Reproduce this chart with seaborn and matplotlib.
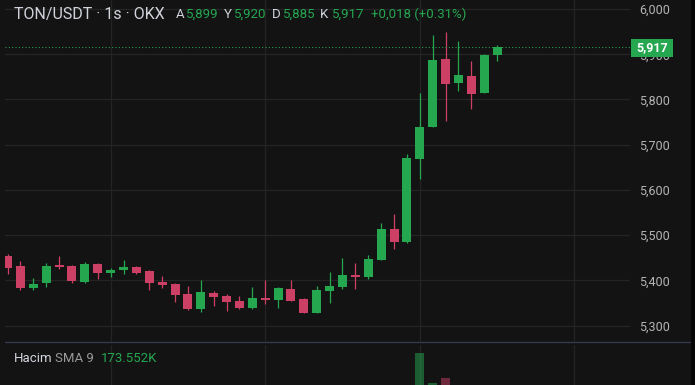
import numpy as np
import pandas as pd
import matplotlib
matplotlib.use("Agg")
import matplotlib.pyplot as plt
import seaborn as sns
from matplotlib.patches import Rectangle
from matplotlib.lines import Line2D

# ---------------- data ----------------
opens = [5454, 5432, 5384, 5393, 5433, 5432, 5397, 5436, 5417, 5422,
         5430, 5421, 5397, 5392, 5370, 5337, 5372, 5365, 5354, 5339,
         5361, 5357, 5381, 5359, 5328, 5377, 5386, 5412, 5407, 5445,
         5514, 5485, 5668, 5739, 5890, 5837, 5852, 5814, 5899]
highs = [5459, 5443, 5405, 5439, 5454, 5433, 5441, 5439, 5427, 5445,
         5432, 5422, 5410, 5393, 5387, 5401, 5376, 5370, 5365, 5385,
         5401, 5385, 5401, 5361, 5387, 5419, 5449, 5438, 5456, 5527,
         5547, 5680, 5815, 5943, 5949, 5930, 5885, 5901, 5920]
lows = [5415, 5379, 5379, 5386, 5426, 5393, 5393, 5402, 5408, 5413,
        5413, 5379, 5382, 5353, 5335, 5330, 5344, 5333, 5337, 5337,
        5348, 5339, 5355, 5328, 5328, 5350, 5381, 5381, 5403, 5445,
        5469, 5483, 5624, 5739, 5753, 5819, 5779, 5814, 5885]
closes = [5428, 5384, 5392, 5432, 5430, 5399, 5436, 5417, 5423, 5430,
          5417, 5395, 5390, 5368, 5337, 5374, 5364, 5353, 5339, 5361,
          5357, 5383, 5355, 5328, 5379, 5387, 5412, 5407, 5447, 5514,
          5485, 5671, 5739, 5888, 5834, 5854, 5812, 5899, 5917]
volumes_k = [60, 85, 40, 70, 30, 55, 65, 45, 25, 35,
             30, 60, 35, 70, 90, 95, 40, 55, 45, 60,
             50, 65, 70, 85, 110, 70, 90, 50, 120, 180,
             150, 260, 607, 338, 381, 70, 110, 95, 60]
price_ticks = [5300, 5400, 5500, 5600, 5700, 5800, 5900, 6000]
price_tick_labels = ["5,300", "5,400", "5,500", "5,600", "5,700", "5,800", "5,900", "6,000"]
time_grid_idx = [8, 20, 32, 44]
last_price = 5917
last_price_label = "5,917"
title = "TON/USDT · 1s · OKX"
ohlc_keys = ["A", "Y", "D", "K"]
ohlc_vals = ["5,899", "5,920", "5,885", "5,917"]
change_text = "+0,018 (+0.31%)"
vol_name = "Hacim"
vol_sma = "SMA 9"
vol_sma_val = "173.552K"
vol_axis_label = "400K"

# ---------------- style ----------------
BG = "#131313"
GRID = "#242424"
UP = "#25a750"
DOWN = "#cc4066"
TXT = "#d1d4dc"
TICK = "#b4b4b4"
GRAY = "#9a9a9a"

sns.set_theme(style="dark", rc={"axes.facecolor": BG, "figure.facecolor": BG,
                                "grid.color": GRID, "axes.grid": True})
plt.rcParams["font.family"] = ["Roboto", "DejaVu Sans"]

W, H = 695, 385
fig = plt.figure(figsize=(W / 100, H / 100), dpi=100, facecolor=BG)


def fx(px):
    return px / W


def fy(py):
    return 1 - py / H


df = pd.DataFrame({"open": opens, "high": highs, "low": lows, "close": closes,
                   "vol": volumes_k})
df["idx"] = np.arange(len(df))
df["up"] = df["close"] >= df["open"]
df["color"] = np.where(df["up"], UP, DOWN)
df["body_lo"] = df[["open", "close"]].min(axis=1)
df["body_h"] = (df["close"] - df["open"]).abs().clip(lower=2.2)

XLIM = (-0.2, 48.32)

# ---------------- price pane ----------------
ax = fig.add_axes([fx(5), fy(342), fx(630) - fx(5), fy(0) - fy(342)])
ax.set_facecolor(BG)
ax.set_xlim(*XLIM)
ax.set_ylim(5263.5, 6020.1)
ax.vlines(df["idx"], df["low"], df["high"], colors=df["color"], linewidth=0.9, zorder=3)
ax.bar(df["idx"], df["body_h"], bottom=df["body_lo"], width=0.7, color=df["color"],
       linewidth=0, zorder=4)
ax.axhline(last_price, color=UP, linestyle=(0, (1, 2.2)), linewidth=0.75, zorder=5)

ax.set_xticks(time_grid_idx)
ax.set_xticklabels([])
ax.set_yticks(price_ticks)
ax.set_yticklabels(price_tick_labels)
ax.yaxis.tick_right()
ax.tick_params(axis="y", length=0, pad=6.5, labelsize=9, labelcolor=TICK)
ax.tick_params(axis="x", length=0)
ax.grid(True, color=GRID, linewidth=0.9)
for s in ax.spines.values():
    s.set_visible(False)

# ---------------- volume pane ----------------
ax2 = fig.add_axes([fx(5), fy(420), fx(630) - fx(5), fy(345) - fy(420)])
ax2.set_facecolor("none")
ax2.set_xlim(*XLIM)
ax2.set_ylim(0, 680)
ax2.bar(df["idx"], df["vol"], width=0.7, color=df["color"], alpha=0.5, linewidth=0, zorder=3)
ax2.set_xticks(time_grid_idx)
ax2.set_xticklabels([])
ax2.set_yticks([])
ax2.grid(True, axis="x", color=GRID, linewidth=0.9)
ax2.grid(False, axis="y")
ax2.tick_params(length=0)
for s in ax2.spines.values():
    s.set_visible(False)

# separator line
fig.add_artist(Line2D([fx(5), fx(690)], [fy(342), fy(342)], color="#33384a", linewidth=1.0))
# right dark strip
fig.add_artist(Rectangle((fx(691), 0), fx(4), 1, color="#060606", linewidth=0))

# last price tag
fig.add_artist(Rectangle((fx(631), fy(56.5)), fx(42), fy(39) - fy(56.5), color=UP, linewidth=0))
fig.text(fx(652), fy(47.5), last_price_label, color="white", fontsize=9, fontweight="bold",
         ha="center", va="center")

# header
fig.text(fx(14), fy(14), title, color=TXT, fontsize=11.5, ha="left", va="center")
key_x = [176, 224, 272, 320]
val_x = [186, 234, 283, 332]
for k, v, kx, vx in zip(ohlc_keys, ohlc_vals, key_x, val_x):
    fig.text(fx(kx), fy(14), k, color=TXT, fontsize=9.5, ha="left", va="center")
    fig.text(fx(vx), fy(14), v, color=UP, fontsize=9.5, ha="left", va="center")
fig.text(fx(371), fy(14), change_text, color=UP, fontsize=9.5, ha="left", va="center")

# volume legend
fig.text(fx(14), fy(359), vol_name, color=TXT, fontsize=9.5, ha="left", va="center")
fig.text(fx(55), fy(359), vol_sma, color=GRAY, fontsize=9.5, ha="left", va="center")
fig.text(fx(101), fy(359), vol_sma_val, color=UP, fontsize=9.5, ha="left", va="center")
fig.text(fx(641), fy(383.5), vol_axis_label, color=TICK, fontsize=9, ha="left", va="top")

fig.savefig("out.png", dpi=100, facecolor=BG)
